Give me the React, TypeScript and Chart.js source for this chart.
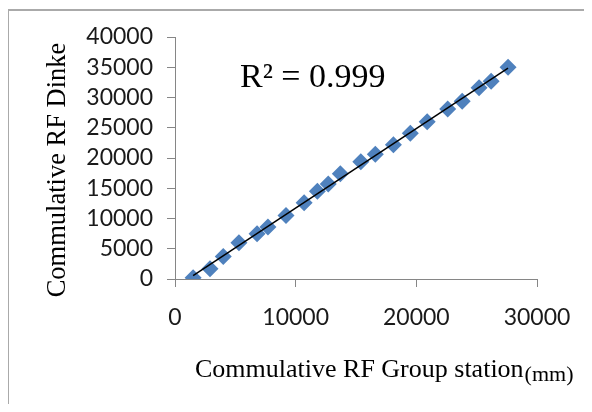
import React, { useEffect, useRef } from "react";
import { Chart, registerables } from "chart.js";

Chart.register(...registerables);

// ---- data ----
const groupStation = [1500, 2900, 4000, 5300, 6800, 7700, 9200, 10700, 11800, 12700, 13700, 15400, 16600, 18100, 19500, 20900, 22600, 23800, 25200, 26200, 27600];
const dinke = [200, 1700, 3700, 6000, 7500, 8600, 10500, 12600, 14500, 15700, 17400, 19400, 20600, 22200, 24100, 26000, 28100, 29400, 31600, 32700, 35000];
const xTicks = [0, 10000, 20000, 30000];
const yTicks = [0, 5000, 10000, 15000, 20000, 25000, 30000, 35000, 40000];
const rSquaredLabel = "R\u00B2 = 0.999";
const xTitle = "Commulative RF Group station";
const xUnit = "(mm)";
const yTitle = "Commulative RF Dinke";

function regression(xs: number[], ys: number[]) {
  const n = xs.length;
  const mx = xs.reduce((a, b) => a + b, 0) / n;
  const my = ys.reduce((a, b) => a + b, 0) / n;
  let sxy = 0, sxx = 0;
  for (let i = 0; i < n; i++) {
    sxy += (xs[i] - mx) * (ys[i] - my);
    sxx += (xs[i] - mx) * (xs[i] - mx);
  }
  const slope = sxy / sxx;
  return { slope, intercept: my - slope * mx };
}

const titlesPlugin = {
  id: "titles",
  afterDraw(chart: any) {
    const ctx = chart.ctx as CanvasRenderingContext2D;
    const ca = chart.chartArea;
    ctx.save();
    ctx.fillStyle = "#000";
    ctx.textBaseline = "alphabetic";
    ctx.textAlign = "left";
    // R² label
    ctx.font = '34px "Liberation Serif"';
    ctx.fillText(rSquaredLabel, ca.left + 65, ca.top + 49.5);
    // x title
    ctx.font = '26px "Liberation Serif"';
    const x0 = ca.left + 20;
    const yb = ca.bottom + 97.5;
    ctx.fillText(xTitle, x0, yb);
    const w = ctx.measureText(xTitle).width;
    ctx.font = '22px "Liberation Serif"';
    ctx.fillText(xUnit, x0 + w + 1, yb + 4);
    // y title
    ctx.font = '26.5px "Liberation Serif"';
    ctx.translate(65, (ca.top + ca.bottom) / 2 + 12);
    ctx.rotate(-Math.PI / 2);
    ctx.textAlign = "center";
    ctx.fillText(yTitle, 0, 0);
    ctx.restore();
  },
};

export default function App() {
  const ref = useRef<HTMLCanvasElement>(null);
  useEffect(() => {
    if (!ref.current) return;
    const { slope, intercept } = regression(groupStation, dinke);
    const xMin = Math.min(...groupStation);
    const xMax = Math.max(...groupStation);
    const points = groupStation.map((x, i) => ({ x, y: dinke[i] }));
    const trend = [
      { x: xMin, y: slope * xMin + intercept },
      { x: xMax, y: slope * xMax + intercept },
    ];
    const tickFont = { family: "Lato", size: 23, lineHeight: 1 };
    const chart = new Chart(ref.current, {
      type: "scatter",
      data: {
        datasets: [
          {
            label: "Dinke",
            data: points,
            pointStyle: "rectRot",
            pointRadius: 8.5,
            backgroundColor: "#4F81BD",
            borderColor: "#4F81BD",
            borderWidth: 0,
            order: 2,
          },
          {
            type: "line",
            label: "Trend",
            data: trend,
            borderColor: "#000",
            borderWidth: 1.5,
            pointRadius: 0,
            fill: false,
            order: 1,
          } as any,
        ],
      },
      options: {
        animation: false,
        responsive: false,
        devicePixelRatio: 1,
        layout: { padding: { left: 0, right: 55, top: 37, bottom: 0 } },
        plugins: { legend: { display: false }, tooltip: { enabled: false }, title: { display: false } },
        scales: {
          x: {
            type: "linear",
            min: 0,
            max: 30000,
            afterBuildTicks: (s: any) => { s.ticks = xTicks.map((v) => ({ value: v })); },
            afterFit: (s: any) => { s.height = 133; },
            border: { color: "#868686", width: 1 },
            grid: { display: true, drawOnChartArea: false, drawTicks: true, tickLength: 8, color: "#868686" },
            ticks: { font: tickFont, color: "#1a1a1a", padding: 19, maxRotation: 0, callback: (v: any) => String(v) },
          },
          y: {
            type: "linear",
            min: 0,
            max: 40000,
            afterBuildTicks: (s: any) => { s.ticks = yTicks.map((v) => ({ value: v })); },
            afterFit: (s: any) => { s.width = 175; },
            border: { color: "#868686", width: 1 },
            grid: { display: true, drawOnChartArea: false, drawTicks: true, tickLength: 8, color: "#868686" },
            ticks: { font: tickFont, color: "#1a1a1a", padding: 14, callback: (v: any) => String(v) },
          },
        },
      },
      plugins: [titlesPlugin],
    });
    return () => chart.destroy();
  }, []);

  return (
    <div style={{ position: "relative", width: 592, height: 412, margin: -8, overflow: "hidden", background: "#fff" }}>
      <canvas ref={ref} width={592} height={412} style={{ position: "absolute", left: 0, top: 0, width: 592, height: 412 }} />
      <div style={{ position: "absolute", left: 7, top: 9, width: 700, height: 500, borderLeft: "2px solid #aaaaaa", borderTop: "2px solid #aaaaaa", pointerEvents: "none" }} />
    </div>
  );
}
